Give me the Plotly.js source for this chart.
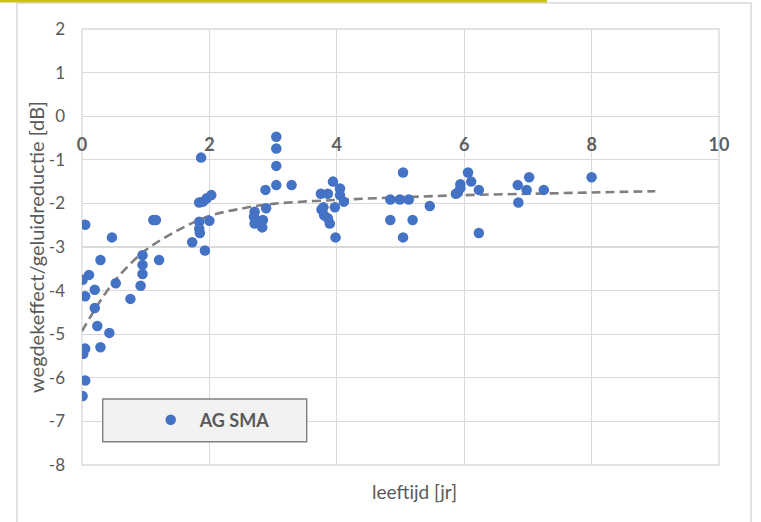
<!DOCTYPE html>
<html>
<head>
<meta charset="utf-8">
<script src="https://cdn.plot.ly/plotly-3.0.1.min.js"></script>
<style>html,body{margin:0;padding:0;background:#fff;}#chart{width:761px;height:522px;}</style>
</head>
<body>
<div id="chart"></div>
<script>
// ---- data ----
const seriesName = "AG SMA";
const ageYears = [
  1.87, 1.84, 1.90, 1.96, 2.03, 0.05, 0.47, 1.12, 1.16, 1.84,
  2.00, 1.84, 1.85, 1.73, 1.93, 0.29, 1.21, 0.95, 0.95, 0.95,
  0.11, 0.01, 0.53, 0.92, 0.20, 0.05, 0.76, 0.20, 0.24, 0.43,
  0.05, 0.02, 0.29, 0.05, 0.01, 3.05, 3.05, 3.05, 3.05, 3.29,
  2.88, 2.89, 2.71, 2.70, 2.71, 2.84, 2.83, 3.94, 3.75, 3.86,
  4.05, 4.05, 4.11, 3.79, 3.97, 3.80, 3.86, 3.89, 3.76, 3.98,
  5.04, 4.84, 4.99, 5.13, 5.46, 4.84, 5.19, 5.04, 6.06, 6.11,
  5.94, 5.94, 5.87, 5.90, 6.23, 6.23, 6.84, 7.02, 6.98, 7.25,
  6.85, 8.00
];
const effectDb = [
  -0.95, -1.98, -1.96, -1.88, -1.81, -2.49, -2.78, -2.38, -2.38, -2.42,
  -2.40, -2.58, -2.68, -2.89, -3.08, -3.30, -3.30, -3.19, -3.41, -3.62,
  -3.64, -3.75, -3.83, -3.89, -3.98, -4.13, -4.19, -4.40, -4.81, -4.97,
  -5.33, -5.45, -5.30, -6.06, -6.42, -0.47, -0.74, -1.14, -1.58, -1.58,
  -1.69, -2.11, -2.19, -2.30, -2.46, -2.38, -2.55, -1.50, -1.78, -1.78,
  -1.66, -1.81, -1.96, -2.09, -2.09, -2.27, -2.34, -2.46, -2.14, -2.78,
  -1.29, -1.91, -1.91, -1.91, -2.06, -2.38, -2.38, -2.78, -1.29, -1.50,
  -1.56, -1.65, -1.78, -1.75, -1.69, -2.68, -1.58, -1.40, -1.69, -1.69,
  -1.98, -1.40
];
// trend curve (dashed)
const trendX = [0, 0.25, 0.5, 0.75, 1, 1.5, 2, 2.5, 3, 4, 5, 6, 7, 8, 9];
const trendY = [-4.93, -4.32, -3.80, -3.40, -3.07, -2.62, -2.29, -2.12, -2.01, -1.92, -1.86, -1.81, -1.78, -1.75, -1.72];
const xTickVals = [0, 2, 4, 6, 8, 10];
const xTickText = ["0", "2", "4", "6", "8", "10"];
const yTickVals = [-8, -7, -6, -5, -4, -3, -2, -1, 0, 1, 2];
const yTickText = ["-8", "-7", "-6", "-5", "-4", "-3", "-2", "-1", "0", "1", "2"];
const xTitle = "leeftijd [jr]";
const yTitle = "wegdekeffect/geluidreductie [dB]";

// ---- layout helpers (pixel -> paper) ----
const W = 761, H = 522;
const M = {l: 82, r: 42, t: 29, b: 57};
const PW = W - M.l - M.r, PH = H - M.t - M.b;
const px = v => (v - M.l) / PW;
const py = v => (H - M.b - v) / PH;

const FONT = "Lato, 'Open Sans', 'Liberation Sans', sans-serif";
const GREY = "#595959";

const traces = [
  {
    x: trendX, y: trendY, type: "scatter", mode: "lines",
    line: {color: "#7f7f7f", width: 2.6, dash: "9px,5px", shape: "spline"},
    showlegend: false, hoverinfo: "skip"
  },
  {
    x: ageYears, y: effectDb, type: "scatter", mode: "markers",
    name: seriesName,
    marker: {color: "#4472c4", size: 10.5, line: {width: 0}}
  }
];

const layout = {
  width: W, height: H,
  margin: M,
  paper_bgcolor: "#ffffff", plot_bgcolor: "#ffffff",
  font: {family: FONT, color: GREY},
  xaxis: {
    range: [0, 10], tickvals: xTickVals, ticktext: xTickText,
    anchor: "free", position: 0.8,
    showgrid: true, gridcolor: "#d9d9d9", gridwidth: 1.3,
    zeroline: false, showline: false, ticks: "",
    ticklabelstandoff: 16,
    tickfont: {family: FONT, size: 18, color: "#5f5f5f", weight: "bold"}
  },
  yaxis: {
    range: [-8, 2], tickvals: yTickVals, ticktext: yTickText,
    showgrid: true, gridcolor: "#d9d9d9", gridwidth: 1.3,
    zeroline: false, showline: false, ticks: "",
    ticklabelstandoff: 16,
    tickfont: {family: FONT, size: 17, color: GREY}
  },
  showlegend: true,
  legend: {
    x: px(141.7), y: py(420), xanchor: "left", yanchor: "middle",
    bgcolor: "rgba(0,0,0,0)", borderwidth: 0, itemwidth: 48,
    font: {family: FONT, size: 18, color: GREY, weight: "bold"}
  },
  annotations: [
    {text: xTitle, xref: "paper", yref: "paper", x: px(414), y: py(491),
     xanchor: "center", yanchor: "middle", showarrow: false,
     font: {family: FONT, size: 19, color: GREY}},
    {text: yTitle, xref: "paper", yref: "paper", x: px(36), y: py(247),
     xanchor: "center", yanchor: "middle", showarrow: false, textangle: -90,
     font: {family: FONT, size: 20, color: GREY}}
  ],
  shapes: [
    // outer chart border
    {type: "rect", xref: "paper", yref: "paper", x0: px(17), x1: px(751), y0: py(530), y1: py(3),
     line: {color: "#d9d9d9", width: 1.5}, fillcolor: "rgba(0,0,0,0)", layer: "below"},
    // yellow line at top
    {type: "rect", xref: "paper", yref: "paper", x0: px(-2), x1: px(547), y0: py(2.5), y1: py(-2),
     line: {width: 0}, fillcolor: "#c9c21c", layer: "above"},
    // plot border
    {type: "rect", xref: "paper", yref: "paper", x0: 0, x1: 1, y0: 0, y1: 1,
     line: {color: "#d9d9d9", width: 1.3}, fillcolor: "rgba(0,0,0,0)", layer: "below"},
    // legend box
    {type: "rect", xref: "paper", yref: "paper", x0: px(102.7), x1: px(306.7), y0: py(441.7), y1: py(399),
     line: {color: "#808080", width: 1.4}, fillcolor: "#f2f2f2", layer: "above"}
  ]
};

Plotly.newPlot("chart", traces, layout, {displayModeBar: false, staticPlot: true});
</script>
</body>
</html>
